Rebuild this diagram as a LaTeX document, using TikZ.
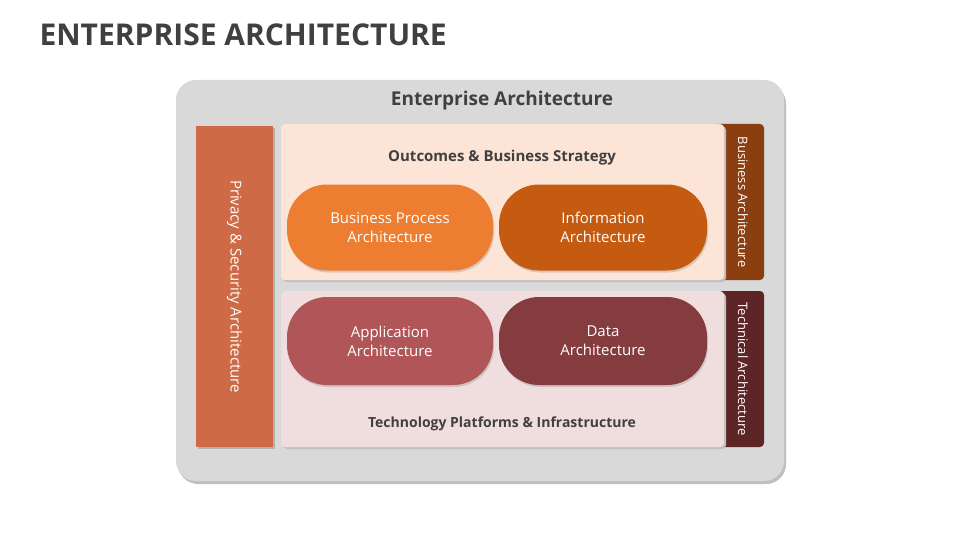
\documentclass[tikz,border=0pt]{standalone}
\usepackage{fontspec}
\setmainfont{Open Sans}
\usetikzlibrary{shadows}
\definecolor{ttl}{HTML}{404040}
\begin{document}
\begin{tikzpicture}[x=1pt,y=-1pt,
 pill/.style={rounded corners=40pt,text=white,align=center,font=\fontsize{15}{19}\selectfont,drop shadow={opacity=0.3,shadow xshift=1pt,shadow yshift=-2pt}},
 vbar/.style={text=white,font=\fontsize{13}{15}\selectfont},
 hdr/.style={font=\bfseries\fontsize{15}{18}\selectfont,text=ttl}]
\useasboundingbox[fill=white] (0,0) rectangle (960,540);
\node[anchor=west,font=\bfseries\fontsize{30}{34}\selectfont,text=ttl] (title) at (36,35) {ENTERPRISE ARCHITECTURE};
\fill[black!25,rounded corners=20pt] (178,84) rectangle (786,484);
\fill[fill=black!15,rounded corners=20pt] (176,80) rectangle (784,481);
\node[font=\bfseries\fontsize{19}{22}\selectfont,text=ttl] (ea) at (502,101) {Enterprise Architecture};
% left bar
\fill[black!30] (198,128) rectangle (275,449);
\fill[fill={rgb,255:red,206;green,106;blue,69}] (196,126) rectangle (273,447);
\node[vbar,rotate=-90,font=\fontsize{15}{17}\selectfont] (ps) at (234.5,286.5) {Privacy \& Security Architecture};
% top
\fill[fill={rgb,255:red,139;green,62;blue,16},rounded corners=4pt] (710,124) rectangle (764,280);
\fill[black!25,rounded corners=4pt] (283,126) rectangle (726,282);
\fill[fill={rgb,255:red,252;green,228;blue,214},rounded corners=4pt] (281,124) rectangle (724,280);
\node[vbar,rotate=-90] (ba) at (743,202) {Business Architecture};
\node[hdr] (obs) at (502,158) {Outcomes \& Business Strategy};
\node[pill,fill={rgb,255:red,237;green,125;blue,49},minimum width=206pt,minimum height=86pt] (bpa) at (390,227.5) {Business Process\\Architecture};
\node[pill,fill={rgb,255:red,197;green,90;blue,17},minimum width=208pt,minimum height=86pt] (ia) at (603,227.5) {Information\\Architecture};
% bottom
\fill[fill={rgb,255:red,94;green,37;blue,39},rounded corners=4pt] (710,291) rectangle (764,447);
\fill[black!25,rounded corners=4pt] (283,293) rectangle (726,449);
\fill[fill={rgb,255:red,240;green,222;blue,222},rounded corners=4pt] (281,291) rectangle (724,447);
\node[vbar,rotate=-90] (ta) at (743,369) {Technical Architecture};
\node[pill,fill={rgb,255:red,176;green,85;blue,88},minimum width=206pt,minimum height=88pt] (aa) at (390,341) {Application\\Architecture};
\node[pill,fill={rgb,255:red,132;green,60;blue,63},minimum width=208pt,minimum height=88pt] (da) at (603,341) {Data\\Architecture};
\node[hdr,font=\bfseries\fontsize{14}{17}\selectfont] (tpi) at (502,424) {Technology Platforms \& Infrastructure};
\end{tikzpicture}
\end{document}
